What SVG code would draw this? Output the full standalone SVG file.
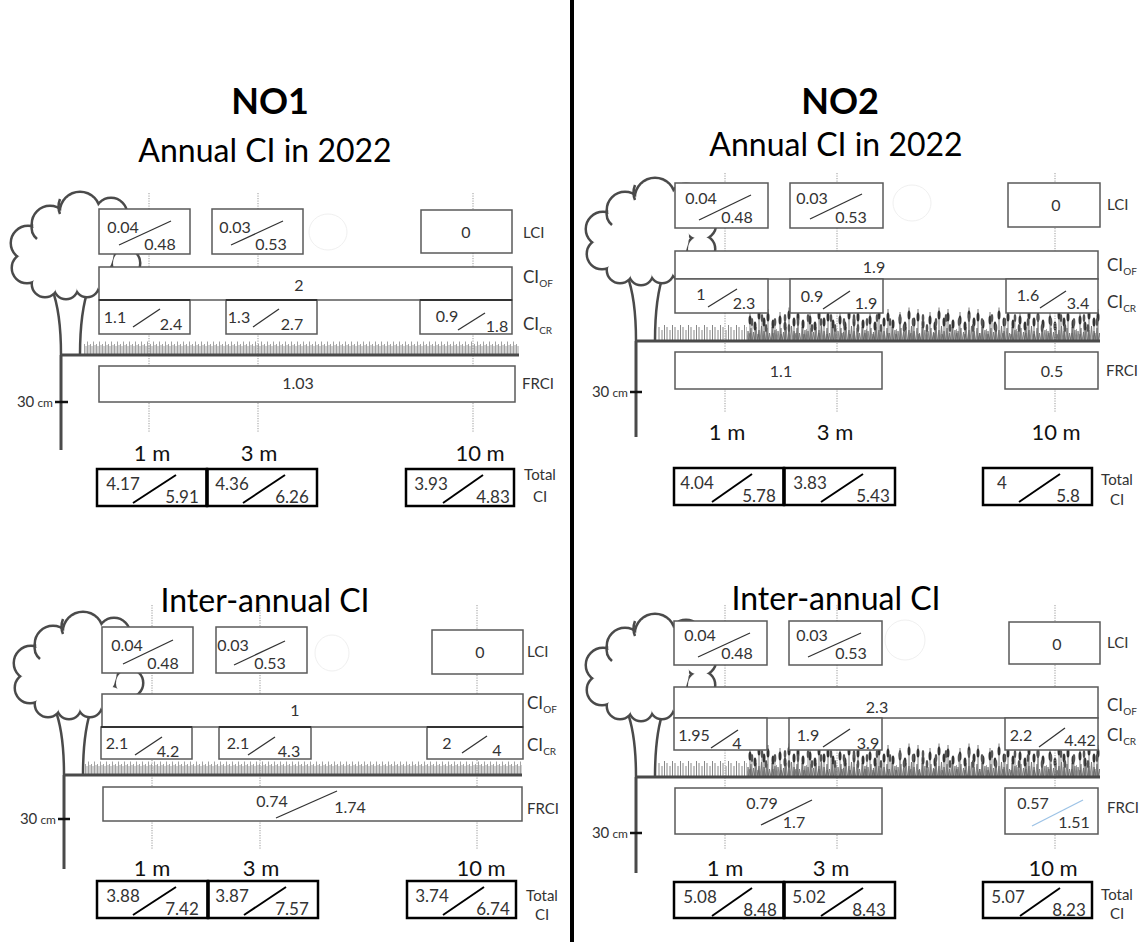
<svg xmlns="http://www.w3.org/2000/svg" width="1142" height="942" viewBox="0 0 1142 942">
<style>
text{font-family:Lato,"Liberation Sans",sans-serif;fill:#333}
.box{fill:#fff;stroke:#5a5a5a;stroke-width:1.5}
.tb{fill:#fff;stroke:#000;stroke-width:2.5}
.n{font-size:16px;text-anchor:middle}
.tn{font-size:17px;text-anchor:middle}
.sl{stroke:#333;stroke-width:1.3}
.bsl{stroke:#9dc3e6;stroke-width:1.3}
.tsl{stroke:#000;stroke-width:2}
.lab{font-size:15px}
.cl{font-size:17px}
.dist{font-size:22px;text-anchor:middle;fill:#111}
.tot{font-size:15px;text-anchor:middle}
.guide{stroke:#999;stroke-width:1;stroke-dasharray:1.2 1.3;fill:none}
.ground{stroke:#4a4a4a;stroke-width:3;fill:none}
.tick{stroke:#111;stroke-width:2.5}
.ttl{font-size:36px;font-weight:bold;text-anchor:middle;fill:#000}
.sub{font-size:32px;text-anchor:middle;fill:#000}
.ghost{fill:none;stroke:#f0f0f0;stroke-width:1}
.cm{font-size:15px;text-anchor:end}
.seam{stroke:#000;stroke-width:3.5}
.seam2{stroke:#333;stroke-width:2}
</style>
<defs>
<pattern id="grass" width="6" height="14" patternUnits="userSpaceOnUse">
<path d="M0.5,14V4 M2,14V6 M3.5,14V1.5 M5,14V5" stroke="#8a8a8a" stroke-width="0.8"/>
</pattern>
<pattern id="grass2" width="8" height="18" patternUnits="userSpaceOnUse">
<path d="M1,18V4 M4,18V7 M6.5,18V2" stroke="#7a7a7a" stroke-width="0.9"/>
</pattern>
<pattern id="cropA" width="30" height="34" patternUnits="userSpaceOnUse">
<path d="M0,34 L1,24 L2.5,34 L4,21 L5,34 L6.5,25 L8,34 L9,20 L10.5,34 L12,23 L13,34 L14.5,19 L16,34 L17,24 L18.5,34 L20,21 L21,34 L22.5,26 L24,34 L25,20 L26.5,34 L28,23 L29,34 L30,22 L30,34Z" fill="#b0b0b0" stroke="#555" stroke-width="0.6"/>
<path d="M3,34V12 M8,34V18 M12,34V6 M17,34V14 M21,34V9 M26,34V16 M3,9V5 M12,4V0.5 M21,6V2" stroke="#555" stroke-width="0.8"/>
<g fill="#333"><ellipse cx="3" cy="13" rx="1.5" ry="4.5"/><ellipse cx="8" cy="19" rx="1.5" ry="4.5"/><ellipse cx="12" cy="8" rx="1.5" ry="4.5"/><ellipse cx="17" cy="15" rx="1.5" ry="4.5"/><ellipse cx="21" cy="10" rx="1.5" ry="4.5"/><ellipse cx="26" cy="17" rx="1.5" ry="4.5"/></g>
</pattern>
<pattern id="cropB" width="23" height="34" patternUnits="userSpaceOnUse">
<path d="M5,34V14 M15,34V10 M19,34V20" stroke="#666" stroke-width="0.7"/>
<g fill="#555"><ellipse cx="5" cy="15" rx="1.3" ry="4"/><ellipse cx="15" cy="11" rx="1.3" ry="4"/><ellipse cx="19" cy="21" rx="1.3" ry="4"/></g>
<path d="M1,34L3,26L4,34 M10,34L11,27L13,34" fill="#888" stroke="#555" stroke-width="0.5"/>
</pattern>
<g id="tree">
<path d="M0,0 C0,-28 -2,-48 -9,-66 M19,0 C19,-30 22,-52 28,-68" fill="none" stroke="#4a4a4a" stroke-width="2.5"/>
<g fill="none" stroke="#4a4a4a" stroke-width="5">
<circle cx="19" cy="-143" r="19"/><circle cx="-11" cy="-131" r="17"/><circle cx="-33" cy="-112" r="16"/><circle cx="-34" cy="-87" r="14"/><circle cx="-16" cy="-71" r="12"/><circle cx="5" cy="-68" r="11"/><circle cx="26" cy="-70" r="11"/><circle cx="47" cy="-75" r="13"/><circle cx="65" cy="-92" r="13"/><circle cx="64" cy="-117" r="15"/><circle cx="50" cy="-141" r="15"/>
</g>
<g fill="#fff">
<circle cx="19" cy="-143" r="19"/><circle cx="-11" cy="-131" r="17"/><circle cx="-33" cy="-112" r="16"/><circle cx="-34" cy="-87" r="14"/><circle cx="-16" cy="-71" r="12"/><circle cx="5" cy="-68" r="11"/><circle cx="26" cy="-70" r="11"/><circle cx="47" cy="-75" r="13"/><circle cx="65" cy="-92" r="13"/><circle cx="64" cy="-117" r="15"/><circle cx="50" cy="-141" r="15"/><circle cx="15" cy="-105" r="38"/><circle cx="-15" cy="-95" r="20"/>
</g>
<path d="M-29,-131 Q-31,-122 -24,-116 M-1,-156 Q-4,-148 -1,-141" fill="none" stroke="#4a4a4a" stroke-width="2.5"/>
</g>
</defs>
<rect width="1142" height="942" fill="#fff"/>

<!-- divider -->
<line x1="572" y1="0" x2="572" y2="942" stroke="#000" stroke-width="4"/>

<!-- titles -->
<g id="titles">
<text class="ttl" x="270" y="114">NO1</text>
<text class="sub" x="265" y="162">Annual CI in 2022</text>
<text class="ttl" x="840" y="114">NO2</text>
<text class="sub" x="836" y="156">Annual CI in 2022</text>
<text class="sub" x="265" y="612">Inter-annual CI</text>
<text class="sub" x="836" y="610">Inter-annual CI</text>
</g>

<!-- scenery -->
<g id="scenery">
<use href="#tree" x="61" y="355"/>
<use href="#tree" x="636" y="341"/>
<use href="#tree" x="64" y="775"/>
<use href="#tree" x="636" y="777"/>
<g transform="translate(84,340)"><rect width="435" height="14" fill="url(#grass)"/></g>
<g transform="translate(85,760)"><rect width="437" height="14" fill="url(#grass)"/></g>
<g transform="translate(658,323)"><rect width="89" height="18" fill="url(#grass2)"/></g>
<g transform="translate(747,307)"><rect width="353" height="34" fill="url(#cropA)"/><rect width="353" height="34" fill="url(#cropB)"/></g>
<g transform="translate(658,759)"><rect width="89" height="18" fill="url(#grass2)"/></g>
<g transform="translate(747,743)"><rect width="353" height="34" fill="url(#cropA)"/><rect width="353" height="34" fill="url(#cropB)"/></g>
<ellipse class="ghost" cx="328" cy="232" rx="19" ry="18"/>
<ellipse class="ghost" cx="912" cy="203" rx="19" ry="18"/>
<ellipse class="ghost" cx="332" cy="653" rx="17" ry="18"/>
<ellipse class="ghost" cx="905" cy="640" rx="20" ry="20"/>
</g>

<!-- connectors (distance guides) -->
<g id="connectors" class="guide">
<path d="M149,193V433 M258,193V433 M473,193V433"/>
<path d="M725,173V413 M837,173V413 M1055,173V413"/>
<path d="M152,605V850 M260,605V850 M477,605V850"/>
<path d="M725,605V850 M837,605V850 M1055,605V850"/>
</g>

<!-- ground, soil axis -->
<g id="soil">
<path class="ground" d="M61,355H519 M61,355V450"/>
<path class="tick" d="M55,402H68"/>
<text class="cm" x="53" y="407">30<tspan font-size="12"> cm</tspan></text>
<path class="ground" d="M636,341H1100 M636,341V437"/>
<path class="tick" d="M630,392H642"/>
<text class="cm" x="628" y="397">30<tspan font-size="12"> cm</tspan></text>
<path class="ground" d="M64,775H522 M64,775V869"/>
<path class="tick" d="M58,819H70"/>
<text class="cm" x="56" y="824">30<tspan font-size="12"> cm</tspan></text>
<path class="ground" d="M636,777H1100 M636,777V873"/>
<path class="tick" d="M630,833H642"/>
<text class="cm" x="628" y="838">30<tspan font-size="12"> cm</tspan></text>
</g>

<!-- ===== NO1 annual ===== -->
<g id="n1a-lci1"><rect class="box" x="99" y="209" width="91" height="45"/><text class="n" x="123" y="233">0.04</text><text class="n" x="160" y="250">0.48</text><line class="sl" x1="119" y1="245" x2="171" y2="221"/></g>
<g id="n1a-lci3"><rect class="box" x="212" y="209" width="91" height="45"/><text class="n" x="235" y="233">0.03</text><text class="n" x="271" y="250">0.53</text><line class="sl" x1="231" y1="245" x2="283" y2="221"/></g>
<g id="n1a-lci10"><rect class="box" x="421" y="210" width="91" height="43"/><text class="n" x="466" y="238">0</text></g>
<g id="n1a-of"><rect class="box" x="99" y="267" width="413" height="33"/><text class="n" x="299" y="291">2</text></g>
<g id="n1a-cr1"><rect class="box" x="99" y="300" width="91" height="34"/><text class="n" x="115" y="323">1.1</text><text class="n" x="171" y="330">2.4</text><line class="sl" x1="133" y1="327" x2="160" y2="309"/></g>
<g id="n1a-cr3"><rect class="box" x="226" y="300" width="91" height="34"/><text class="n" x="239" y="323">1.3</text><text class="n" x="292" y="330">2.7</text><line class="sl" x1="253" y1="327" x2="279" y2="309"/></g>
<g id="n1a-cr10"><rect class="box" x="420" y="300" width="92" height="34"/><text class="n" x="447" y="322">0.9</text><text class="n" x="497" y="332">1.8</text><line class="sl" x1="458" y1="330" x2="485" y2="313"/></g>
<path class="seam2" d="M99,300H190 M226,300H317 M420,300H512"/>
<g id="n1a-fr"><rect class="box" x="99" y="366" width="416" height="36"/><text class="n" x="298" y="389">1.03</text></g>
<g id="n1a-labels">
<text class="lab" x="523" y="238">LCI</text>
<text class="cl" x="523" y="283">CI<tspan font-size="10" dy="4">OF</tspan></text>
<text class="cl" x="523" y="330">CI<tspan font-size="10" dy="4">CR</tspan></text>
<text class="lab" x="522" y="389">FRCI</text>
<text class="dist" x="152" y="461">1 m</text><text class="dist" x="259" y="461">3 m</text><text class="dist" x="480" y="461">10 m</text>
<text class="tot" x="540" y="480">Total</text><text class="tot" x="540" y="502">CI</text>
</g>
<g id="n1a-t1"><rect class="tb" x="97" y="469" width="110" height="37"/><text class="tn" x="123" y="490">4.17</text><text class="tn" x="182" y="503">5.91</text><line class="tsl" x1="133" y1="503" x2="176" y2="475"/></g>
<g id="n1a-t3"><rect class="tb" x="207" y="469" width="110" height="37"/><text class="tn" x="232" y="490">4.36</text><text class="tn" x="292" y="503">6.26</text><line class="tsl" x1="243" y1="503" x2="285" y2="475"/></g>
<line class="seam" x1="207" y1="469" x2="207" y2="506"/>
<g id="n1a-t10"><rect class="tb" x="406" y="469" width="108" height="37"/><text class="tn" x="431" y="490">3.93</text><text class="tn" x="493" y="503">4.83</text><line class="tsl" x1="443" y1="503" x2="483" y2="475"/></g>

<!-- ===== NO2 annual ===== -->
<g id="n2a-lci1"><rect class="box" x="675" y="183" width="93" height="45"/><text class="n" x="701" y="204">0.04</text><text class="n" x="737" y="223">0.48</text><line class="sl" x1="699" y1="220" x2="751" y2="195"/></g>
<g id="n2a-lci3"><rect class="box" x="790" y="183" width="93" height="45"/><text class="n" x="812" y="204">0.03</text><text class="n" x="851" y="223">0.53</text><line class="sl" x1="810" y1="219" x2="862" y2="194"/></g>
<g id="n2a-lci10"><rect class="box" x="1008" y="183" width="92" height="44"/><text class="n" x="1056" y="211">0</text></g>
<g id="n2a-of"><rect class="box" x="675" y="251" width="423" height="28"/><text class="n" x="874" y="273">1.9</text></g>
<g id="n2a-cr1"><rect class="box" x="675" y="279" width="93" height="34"/><text class="n" x="701" y="300">1</text><text class="n" x="744" y="309">2.3</text><line class="sl" x1="708" y1="307" x2="737" y2="289"/></g>
<g id="n2a-cr3"><rect class="box" x="790" y="279" width="93" height="34"/><text class="n" x="812" y="302">0.9</text><text class="n" x="866" y="309">1.9</text><line class="sl" x1="823" y1="309" x2="850" y2="291"/></g>
<g id="n2a-cr10"><rect class="box" x="1006" y="279" width="92" height="34"/><text class="n" x="1028" y="301">1.6</text><text class="n" x="1078" y="309">3.4</text><line class="sl" x1="1040" y1="308" x2="1066" y2="291"/></g>
<g id="n2a-fr13"><rect class="box" x="675" y="352" width="207" height="37"/><text class="n" x="781" y="377">1.1</text></g>
<g id="n2a-fr10"><rect class="box" x="1005" y="352" width="93" height="37"/><text class="n" x="1052" y="377">0.5</text></g>
<g id="n2a-labels">
<text class="lab" x="1107" y="210">LCI</text>
<text class="cl" x="1107" y="271">CI<tspan font-size="10" dy="4">OF</tspan></text>
<text class="cl" x="1107" y="308">CI<tspan font-size="10" dy="4">CR</tspan></text>
<text class="lab" x="1106" y="376">FRCI</text>
<text class="dist" x="727" y="440">1 m</text><text class="dist" x="835" y="440">3 m</text><text class="dist" x="1056" y="440">10 m</text>
<text class="tot" x="1117" y="485">Total</text><text class="tot" x="1117" y="505">CI</text>
</g>
<g id="n2a-t1"><rect class="tb" x="674" y="468" width="110" height="37"/><text class="tn" x="697" y="489">4.04</text><text class="tn" x="759" y="502">5.78</text><line class="tsl" x1="712" y1="502" x2="752" y2="474"/></g>
<g id="n2a-t3"><rect class="tb" x="784" y="468" width="111" height="37"/><text class="tn" x="810" y="489">3.83</text><text class="tn" x="873" y="502">5.43</text><line class="tsl" x1="821" y1="502" x2="863" y2="474"/></g>
<line class="seam" x1="784" y1="468" x2="784" y2="505"/>
<g id="n2a-t10"><rect class="tb" x="983" y="468" width="109" height="37"/><text class="tn" x="1002" y="489">4</text><text class="tn" x="1068" y="502">5.8</text><line class="tsl" x1="1019" y1="502" x2="1060" y2="474"/></g>

<!-- ===== NO1 inter-annual ===== -->
<g id="n1i-lci1"><rect class="box" x="102" y="627" width="91" height="46"/><text class="n" x="127" y="651">0.04</text><text class="n" x="163" y="669">0.48</text><line class="sl" x1="123" y1="664" x2="173" y2="640"/></g>
<g id="n1i-lci3"><rect class="box" x="216" y="627" width="91" height="46"/><text class="n" x="233" y="651">0.03</text><text class="n" x="270" y="669">0.53</text><line class="sl" x1="234" y1="665" x2="285" y2="641"/></g>
<g id="n1i-lci10"><rect class="box" x="432" y="630" width="91" height="44"/><text class="n" x="480" y="658">0</text></g>
<g id="n1i-of"><rect class="box" x="102" y="694" width="421" height="33"/><text class="n" x="295" y="716">1</text></g>
<g id="n1i-cr1"><rect class="box" x="101" y="727" width="91" height="32"/><text class="n" x="117" y="749">2.1</text><text class="n" x="168" y="757">4.2</text><line class="sl" x1="135" y1="755" x2="162" y2="737"/></g>
<g id="n1i-cr3"><rect class="box" x="219" y="727" width="92" height="32"/><text class="n" x="238" y="749">2.1</text><text class="n" x="289" y="757">4.3</text><line class="sl" x1="248" y1="755" x2="275" y2="737"/></g>
<g id="n1i-cr10"><rect class="box" x="427" y="727" width="96" height="32"/><text class="n" x="447" y="749">2</text><text class="n" x="497" y="756">4</text><line class="sl" x1="462" y1="753" x2="487" y2="736"/></g>
<path class="seam2" d="M101,727H192 M219,727H311 M427,727H523"/>
<g id="n1i-fr"><rect class="box" x="103" y="787" width="419" height="34"/><text class="n" x="272" y="807">0.74</text><text class="n" x="350" y="813">1.74</text><line class="sl" x1="276" y1="818" x2="337" y2="791"/></g>
<g id="n1i-labels">
<text class="lab" x="527" y="657">LCI</text>
<text class="cl" x="527" y="709">CI<tspan font-size="10" dy="4">OF</tspan></text>
<text class="cl" x="527" y="751">CI<tspan font-size="10" dy="4">CR</tspan></text>
<text class="lab" x="527" y="814">FRCI</text>
<text class="dist" x="152" y="876">1 m</text><text class="dist" x="261" y="876">3 m</text><text class="dist" x="481" y="876">10 m</text>
<text class="tot" x="542" y="901">Total</text><text class="tot" x="542" y="920">CI</text>
</g>
<g id="n1i-t1"><rect class="tb" x="97" y="881" width="111" height="37"/><text class="tn" x="123" y="902">3.88</text><text class="tn" x="182" y="915">7.42</text><line class="tsl" x1="133" y1="915" x2="176" y2="887"/></g>
<g id="n1i-t3"><rect class="tb" x="208" y="881" width="110" height="37"/><text class="tn" x="232" y="902">3.87</text><text class="tn" x="292" y="915">7.57</text><line class="tsl" x1="244" y1="915" x2="286" y2="887"/></g>
<line class="seam" x1="208" y1="881" x2="208" y2="918"/>
<g id="n1i-t10"><rect class="tb" x="407" y="881" width="109" height="37"/><text class="tn" x="432" y="902">3.74</text><text class="tn" x="493" y="915">6.74</text><line class="tsl" x1="443" y1="915" x2="484" y2="887"/></g>

<!-- ===== NO2 inter-annual ===== -->
<g id="n2i-lci1"><rect class="box" x="674" y="621" width="93" height="44"/><text class="n" x="700" y="641">0.04</text><text class="n" x="737" y="659">0.48</text><line class="sl" x1="698" y1="657" x2="750" y2="633"/></g>
<g id="n2i-lci3"><rect class="box" x="789" y="621" width="93" height="44"/><text class="n" x="812" y="641">0.03</text><text class="n" x="851" y="659">0.53</text><line class="sl" x1="808" y1="657" x2="861" y2="633"/></g>
<g id="n2i-lci10"><rect class="box" x="1009" y="622" width="91" height="42"/><text class="n" x="1057" y="650">0</text></g>
<g id="n2i-of"><rect class="box" x="674" y="687" width="424" height="31"/><text class="n" x="877" y="713">2.3</text></g>
<g id="n2i-cr1"><rect class="box" x="674" y="718" width="93" height="32"/><text class="n" x="694" y="741">1.95</text><text class="n" x="737" y="749">4</text><line class="sl" x1="711" y1="748" x2="738" y2="730"/></g>
<g id="n2i-cr3"><rect class="box" x="789" y="718" width="93" height="32"/><text class="n" x="808" y="741">1.9</text><text class="n" x="868" y="749">3.9</text><line class="sl" x1="823" y1="747" x2="850" y2="729"/></g>
<g id="n2i-cr10"><rect class="box" x="1005" y="718" width="93" height="32"/><text class="n" x="1021" y="741">2.2</text><text class="n" x="1080" y="746">4.42</text><line class="sl" x1="1039" y1="747" x2="1065" y2="728"/></g>
<g id="n2i-fr13"><rect class="box" x="675" y="788" width="207" height="46"/><text class="n" x="762" y="809">0.79</text><text class="n" x="794" y="828">1.7</text><line class="sl" x1="761" y1="825" x2="812" y2="800"/></g>
<g id="n2i-fr10"><rect class="box" x="1005" y="788" width="93" height="46"/><text class="n" x="1033" y="809">0.57</text><text class="n" x="1074" y="828">1.51</text><line class="bsl" x1="1032" y1="826" x2="1083" y2="800"/></g>
<g id="n2i-labels">
<text class="lab" x="1107" y="648">LCI</text>
<text class="cl" x="1107" y="711">CI<tspan font-size="10" dy="4">OF</tspan></text>
<text class="cl" x="1107" y="741">CI<tspan font-size="10" dy="4">CR</tspan></text>
<text class="lab" x="1107" y="813">FRCI</text>
<text class="dist" x="725" y="876">1 m</text><text class="dist" x="831" y="876">3 m</text><text class="dist" x="1053" y="876">10 m</text>
<text class="tot" x="1117" y="900">Total</text><text class="tot" x="1117" y="919">CI</text>
</g>
<g id="n2i-t1"><rect class="tb" x="674" y="882" width="110" height="36"/><text class="tn" x="700" y="903">5.08</text><text class="tn" x="760" y="916">8.48</text><line class="tsl" x1="712" y1="916" x2="752" y2="888"/></g>
<g id="n2i-t3"><rect class="tb" x="784" y="882" width="111" height="36"/><text class="tn" x="809" y="903">5.02</text><text class="tn" x="869" y="916">8.43</text><line class="tsl" x1="821" y1="916" x2="863" y2="888"/></g>
<line class="seam" x1="784" y1="882" x2="784" y2="918"/>
<g id="n2i-t10"><rect class="tb" x="983" y="882" width="109" height="36"/><text class="tn" x="1008" y="903">5.07</text><text class="tn" x="1069" y="916">8.23</text><line class="tsl" x1="1020" y1="916" x2="1060" y2="888"/></g>
</svg>
